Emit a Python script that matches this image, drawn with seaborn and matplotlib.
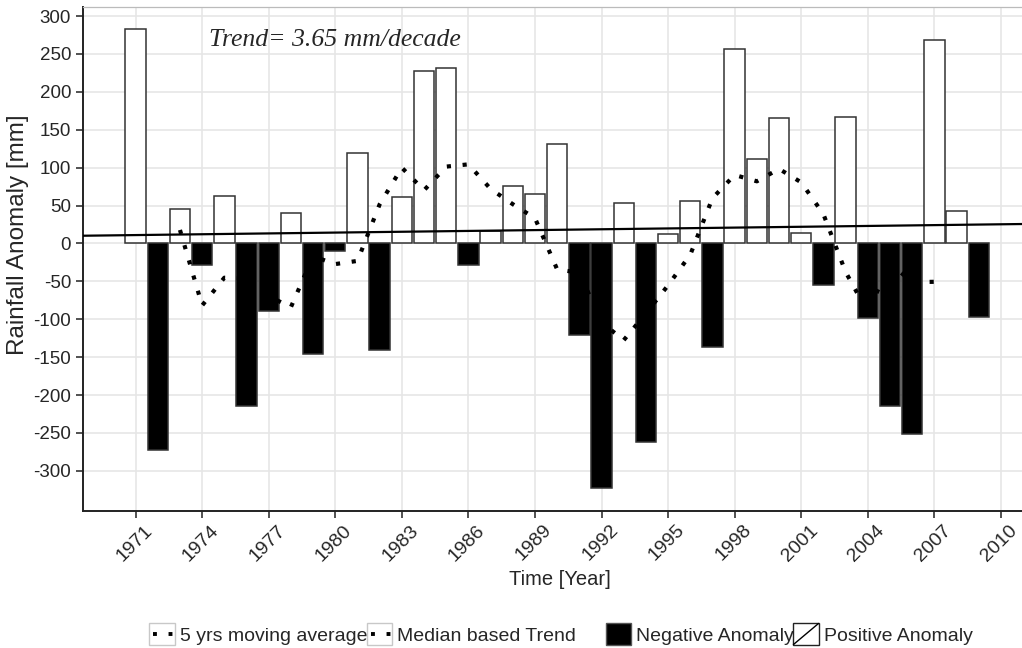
import numpy as np
import pandas as pd
import matplotlib
matplotlib.use("Agg")
import matplotlib.pyplot as plt
import matplotlib.transforms as mtransforms
from matplotlib.patches import Rectangle
from matplotlib.lines import Line2D
from matplotlib.legend_handler import HandlerBase
import seaborn as sns

# ---------------- data ----------------
years = list(range(1971, 2010))
anomaly = [283, -272, 45, -29, 62, -215, -89, 40, -146, -10,
           120, -140, 61, 227, 232, -29, 16, 76, 65, 131,
           -121, -322, 54, -262, 13, 56, -137, 256, 111, 166,
           14, -55, 167, -99, -215, -252, 268, 43, -97]
ma_years = list(range(1973, 2008))
ma_values = [17.8, -81.8, -45.2, -46.2, -69.6, -84.0, -17.0, -27.2, -23.0, 51.6,
             100.0, 70.2, 101.4, 104.4, 72.0, 51.8, 33.4, -34.2, -38.6, -104.0,
             -127.6, -92.2, -55.2, -14.8, 59.8, 90.4, 82.0, 98.4, 80.6, 38.6,
             -37.6, -90.8, -26.2, -51.0, -50.6]
trend_slope_per_decade = 3.65
trend_ref_year = 1990
trend_ref_value = 18.0
trend_label = "Trend= 3.65 mm/decade"
x_ticks = list(range(1971, 2011, 3))
y_ticks = list(range(-300, 301, 50))
legend_labels_1 = ["5 yrs moving average", "Median based Trend"]
legend_labels_2 = ["Negative Anomaly", "Positive Anomaly"]

df = pd.DataFrame({"year": years, "anomaly": anomaly})
df["sign"] = np.where(df["anomaly"] < 0, "neg", "pos")

# ---------------- style ----------------
sns.set_style("white")
plt.rcParams["font.family"] = ["Liberation Sans", "DejaVu Sans"]

fig = plt.figure(figsize=(10.22, 6.48), dpi=100)
ax = fig.add_axes([83 / 1022, 1 - 511 / 648, 1 - 83 / 1022, (511 - 7) / 648])

sns.barplot(data=df, x="year", y="anomaly", hue="sign", native_scale=True,
            palette={"neg": "black", "pos": "white"}, dodge=False, width=0.92,
            saturation=1, errorbar=None, edgecolor="#333333", linewidth=1.1,
            legend=False, ax=ax, zorder=2)

ax.plot(ma_years, ma_values, color="black", lw=3.0, linestyle=(0, (1, 2.8)),
        dash_capstyle="butt", zorder=4)
ax.axline((trend_ref_year, trend_ref_value), slope=trend_slope_per_decade / 10,
          color="black", lw=1.6, zorder=5)

ax.text(1974.3, 268, trend_label, family="Liberation Serif", style="italic",
        fontsize=18.5, ha="left", va="center", zorder=6)

ax.set_xlim(1968.63, 2010.95)
ax.set_ylim(-353, 312)
ax.set_xticks(x_ticks)
ax.set_yticks(y_ticks)
ax.set_yticklabels([str(v) for v in y_ticks])
ax.grid(True, color="#e6e6e6", lw=1.2, zorder=0)
ax.set_axisbelow(True)

for s in ["left", "bottom"]:
    ax.spines[s].set_color("#222222")
    ax.spines[s].set_linewidth(1.4)
ax.spines["top"].set_color("#bbbbbb")
ax.spines["top"].set_linewidth(0.9)
ax.spines["right"].set_visible(False)

ax.tick_params(axis="both", which="major", direction="out", length=5, width=1.1,
               color="#222222", labelsize=13.5, left=True, bottom=True)
ax.tick_params(axis="x", pad=2, labelsize=14)
for lab in ax.get_xticklabels():
    lab.set_rotation(45)
    lab.set_ha("right")
    lab.set_va("top")
    lab.set_rotation_mode("anchor")
    lab.set_transform(lab.get_transform() +
                      mtransforms.ScaledTranslation(0.08, -0.01, fig.dpi_scale_trans))

ax.set_xlabel("Time [Year]", fontsize=14.5)
ax.xaxis.set_label_coords(0.508, -0.118)
ax.set_ylabel("Rainfall Anomaly [mm]", fontsize=17.5)
ax.yaxis.set_label_coords(-0.058, 0.548)


# ---------------- legend ----------------
class DotBoxHandler(HandlerBase):
    def create_artists(self, legend, orig_handle, xdescent, ydescent,
                       width, height, fontsize, trans):
        x0, y0 = -xdescent, -ydescent
        r = Rectangle((x0, y0), width, height, facecolor="white",
                      edgecolor="#c8c8c8", lw=1.0, transform=trans)
        ym = y0 + height / 2
        l = Line2D([x0 + 2.5, x0 + width], [ym, ym], color="black", lw=2.8,
                   linestyle=(0, (1, 3)), dash_capstyle="butt", transform=trans)
        return [r, l]


class SolidBoxHandler(HandlerBase):
    def create_artists(self, legend, orig_handle, xdescent, ydescent,
                       width, height, fontsize, trans):
        x0, y0 = -xdescent, -ydescent
        r = Rectangle((x0, y0), width, height, facecolor="black",
                      edgecolor="#555555", lw=1.0, transform=trans)
        return [r]


class DiagBoxHandler(HandlerBase):
    def create_artists(self, legend, orig_handle, xdescent, ydescent,
                       width, height, fontsize, trans):
        x0, y0 = -xdescent, -ydescent
        r = Rectangle((x0, y0), width, height, facecolor="white",
                      edgecolor="#222222", lw=1.0, transform=trans)
        l = Line2D([x0, x0 + width], [y0, y0 + height], color="black",
                   lw=1.0, transform=trans)
        return [r, l]


h_ma, h_tr, h_neg, h_pos = Line2D([], []), Line2D([], []), Line2D([], []), Line2D([], [])
common = dict(loc="center", ncol=2, frameon=False, fontsize=14,
              handlelength=1.29, handleheight=1.29, handletextpad=0.26,
              columnspacing=0.0, borderpad=0, borderaxespad=0)
fig.legend([h_ma, h_tr], legend_labels_1,
           handler_map={h_ma: DotBoxHandler(), h_tr: DotBoxHandler()},
           bbox_to_anchor=(0.355, 0.0216), **common)
fig.legend([h_neg, h_pos], legend_labels_2,
           handler_map={h_neg: SolidBoxHandler(), h_pos: DiagBoxHandler()},
           bbox_to_anchor=(0.772, 0.0216), **common)

fig.savefig("out.png", dpi=100)
